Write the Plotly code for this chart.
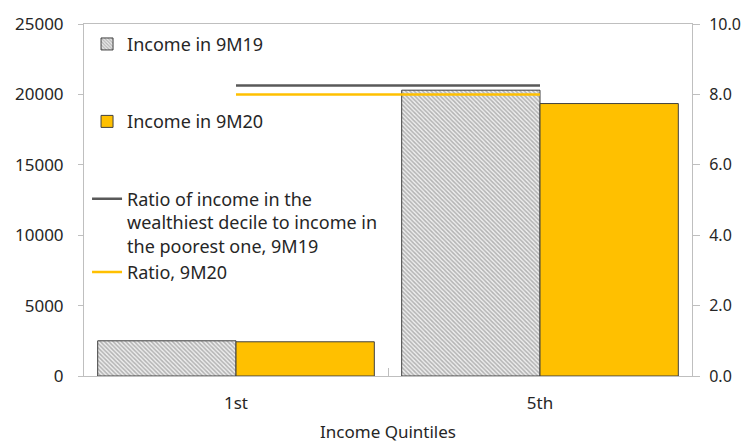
import plotly.graph_objects as go

quintiles = ["1st", "5th"]
income_9m19 = [2500, 20300]
income_9m20 = [2430, 19350]
ratio_9m19 = [8.25, 8.25]
ratio_9m20 = [8.0, 8.0]

font = "Noto Sans"
txt = "#262626"
axis_col = "#BFBFBF"

fig = go.Figure()

fig.add_trace(go.Bar(
    x=quintiles, y=income_9m19, name="Income in 9M19",
    marker=dict(color="#EEEEEE", line=dict(color="#404040", width=1),
                pattern=dict(shape="\\", fgcolor="#777777", bgcolor="#EEEEEE",
                             size=3, solidity=0.5)),
    legend="legend",
))
fig.add_trace(go.Bar(
    x=quintiles, y=income_9m20, name="Income in 9M20",
    marker=dict(color="#FFC000", line=dict(color="#404040", width=1)),
    legend="legend2",
))
fig.add_trace(go.Scatter(
    x=quintiles, y=ratio_9m19, yaxis="y2", mode="lines",
    name="Ratio of income in the<br>wealthiest decile to income in<br>the poorest one, 9M19",
    line=dict(color="#595959", width=2.5),
    legend="legend3",
))
fig.add_trace(go.Scatter(
    x=quintiles, y=ratio_9m20, yaxis="y2", mode="lines",
    name="Ratio, 9M20",
    line=dict(color="#FFC000", width=2.5),
    legend="legend3",
))

leg = dict(bgcolor="rgba(0,0,0,0)", font=dict(family=font, size=18, color=txt),
           xanchor="left", yanchor="top", valign="top", tracegroupgap=0)

# page body adds an 8px offset, so margins are shifted by 8px
fig.update_layout(
    width=749, height=435,
    margin=dict(l=76, r=65, t=16, b=67, autoexpand=False),
    paper_bgcolor="white", plot_bgcolor="white",
    font=dict(family=font, size=17, color=txt),
    barmode="group", bargap=0.09, bargroupgap=0,
    showlegend=True,
    legend=dict(leg, x=0.005, y=0.995),
    legend2=dict(leg, x=0.005, y=0.775),
    legend3=dict(leg, x=0.005, y=0.555),
    xaxis=dict(
        type="category", range=[-0.5, 1.5], automargin=False,
        showline=True, linecolor=axis_col, linewidth=1, mirror=True,
        ticks="inside", tickson="boundaries", ticklen=8, tickcolor=axis_col,
        ticklabelstandoff=12, showgrid=False,
        title=dict(text="Income Quintiles", standoff=16,
                   font=dict(family=font, size=17, color=txt)),
    ),
    yaxis=dict(
        range=[0, 25000], dtick=5000, tickformat="d", automargin=False,
        showline=True, linecolor=axis_col, linewidth=1,
        ticks="outside", ticklen=5, tickcolor=axis_col, ticklabelstandoff=11,
        showgrid=False, zeroline=False,
    ),
    yaxis2=dict(
        range=[0, 10], dtick=2, tickformat=".1f", automargin=False,
        overlaying="y", side="right",
        showline=True, linecolor=axis_col, linewidth=1,
        ticks="outside", ticklen=7, tickcolor=axis_col, ticklabelstandoff=6,
        tickfont=dict(family=font, size=16, color=txt),
        showgrid=False, zeroline=False,
    ),
)

fig.write_html("out.html")
